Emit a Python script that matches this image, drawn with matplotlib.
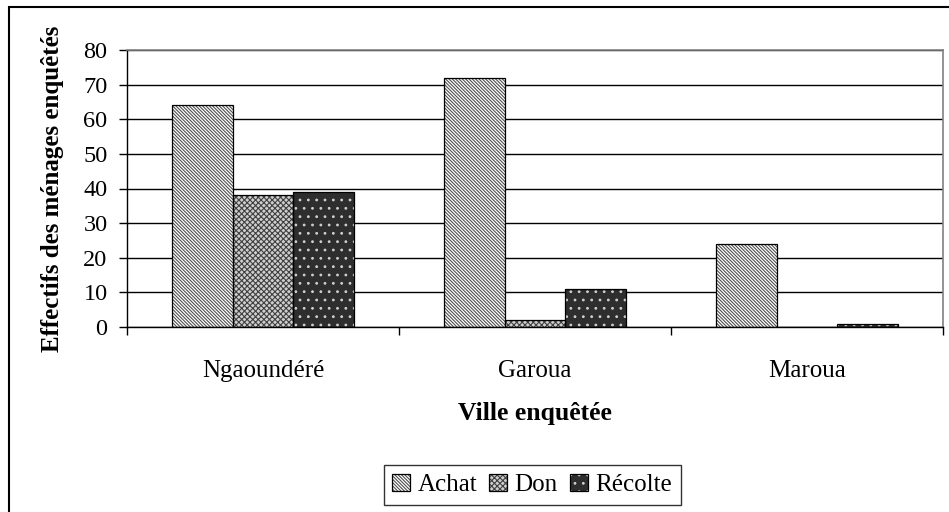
import matplotlib
matplotlib.use("Agg")
import matplotlib.pyplot as plt
from matplotlib.patches import Rectangle
import numpy as np

villes = ["Ngaoundéré", "Garoua", "Maroua"]
series = ["Achat", "Don", "Récolte"]
achat = [64, 72, 24]
don = [38, 2, 0]
recolte = [39, 11, 1]

plt.rcParams["font.family"] = ["Liberation Serif", "DejaVu Serif"]
plt.rcParams["hatch.linewidth"] = 0.8

fig = plt.figure(figsize=(9.49, 5.12), dpi=100)
ax = fig.add_axes([127 / 949, 1 - 327 / 512, (943 - 127) / 949, (327 - 50) / 512])

x = np.arange(len(villes))
w = 0.2234
styles = [
    # face, hatch, hatch colour
    ("white", "\\" * 10, "#505050"),
    ("#cfcfcf", "xxxxxx", "#404040"),
    ("#2e2e2e", "..", "#d0d0d0"),
]
handles = []
for i, (vals, (face, hatch, hcol)) in enumerate(zip([achat, don, recolte], styles)):
    pos = x + (i - 1) * w
    b1 = ax.bar(pos, vals, w, color=face, hatch=hatch, edgecolor=hcol, linewidth=0, zorder=2)
    b2 = ax.bar(pos, vals, w, fill=False, edgecolor="black", linewidth=0.9, zorder=3)
    handles.append((b1[0], b2[0]))

ax.set_xlim(-0.5, 2.5)
ax.set_ylim(0, 80)
ax.set_yticks(range(0, 81, 10))
ax.set_xticks(x)
ax.set_xticklabels(villes, fontsize=18)
ax.set_xticks([-0.5, 0.5, 1.5, 2.5], minor=True)
ax.tick_params(axis="x", which="major", length=0, pad=24)
ax.tick_params(axis="x", which="minor", length=6, width=1, direction="out")
ax.tick_params(axis="y", length=6, width=1, direction="out", labelsize=17.5, pad=8)

ax.set_axisbelow(True)
ax.yaxis.grid(True, color="black", linewidth=1)
for side in ["top", "right"]:
    ax.spines[side].set_color("#808080")
    ax.spines[side].set_linewidth(1.2)
for side in ["left", "bottom"]:
    ax.spines[side].set_color("black")
    ax.spines[side].set_linewidth(1)

ax.set_xlabel("Ville enquêtée", fontsize=18.5, fontweight="bold", labelpad=14)
ax.set_ylabel("Effectifs des ménages enquêtés", fontsize=18, fontweight="bold", labelpad=14)

leg = fig.legend(handles, series, loc="center", bbox_to_anchor=(532 / 949, 1 - 485 / 512),
                 ncol=3, fontsize=18, frameon=True, fancybox=False, edgecolor="black",
                 handlelength=0.7, handleheight=0.7, handletextpad=0.3, columnspacing=0.5,
                 borderpad=0.35)
leg.get_frame().set_linewidth(1)

# outer chart border (right and bottom edges fall outside the image)
fig.patches.append(Rectangle((8.5 / 949, -0.1), 1.2, 1.1 - 7 / 512, transform=fig.transFigure,
                             fill=False, edgecolor="black", linewidth=1.5))

fig.savefig("out.png", dpi=100)
